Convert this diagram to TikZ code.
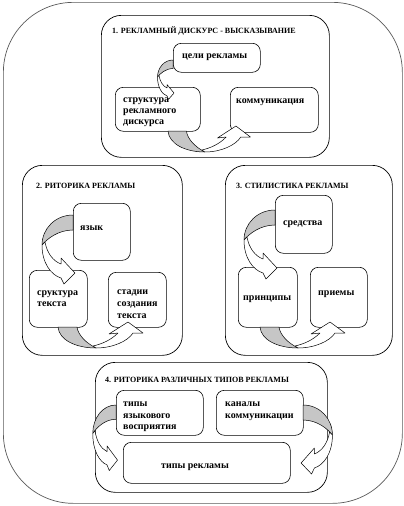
\documentclass[tikz,border=0pt]{standalone}
\usepackage{fontspec}
\setmainfont{Liberation Serif}
\tikzset{
  box/.style={draw, rounded corners=8pt, line width=0.6pt, inner sep=0pt, anchor=north west},
  frame/.style={draw, rounded corners=20pt, line width=0.7pt, inner sep=0pt, anchor=north west},
  ttl/.style={font=\fontsize{8}{9}\selectfont\bfseries, anchor=base west, inner sep=0pt},
  txt/.style={font=\fontsize{10}{11}\selectfont\bfseries, anchor=base west, inner sep=0pt},
  backband/.style={draw, fill=gray!45, line width=0.5pt, line join=round},
  frontband/.style={draw, fill=white, line width=0.5pt, line join=round},
}
\newcommand{\crvL}{%
  \draw[backband] (0,0) .. controls (-18,0) and (-31,14) .. (-31,30) .. controls (-26,24) and (-15,15) .. (0,15) -- cycle;
  \draw[frontband] (-31,30) .. controls (-31,48) and (-22,60) .. (-12,63) -- (-9,69) -- (2,58) -- (-12,43) -- (-12,49) .. controls (-20,46) and (-26,38) .. (-28,27) -- cycle;
}
\newcommand{\crvB}{%
  \draw[backband] (0,0) .. controls (1,13) and (18,21) .. (38,21) .. controls (28,16) and (20,8) .. (19,0) -- cycle;
  \draw[frontband] (38,21) .. controls (55,21) and (70,14) .. (75,6) -- (85,6) -- (70,-5) -- (51,7) -- (60,6) .. controls (53,13) and (44,17) .. (35,19) -- cycle;
}
\begin{document}
\begin{tikzpicture}[x=1pt,y=-1pt]
\useasboundingbox (0,0) rectangle (404,506);
% outer frame
\node[draw=gray!70!black, line width=0.7pt, rounded corners=70pt, inner sep=0pt, anchor=north west,
      minimum width=399pt, minimum height=501pt] (outer) at (3,2) {};

% ---------- frame 1 ----------
\node[frame, minimum width=228pt, minimum height=142pt] (f1) at (101,15) {};
\node[ttl] (t1) at (112,33) {1. РЕКЛАМНЫЙ ДИСКУРС - ВЫСКАЗЫВАНИЕ};
\node[box, minimum width=87pt, minimum height=29pt] (goals) at (173,43) {};
\node[txt] (goalsT) at (182,58) {цели рекламы};
\node[box, minimum width=85pt, minimum height=44pt] (struct) at (115,87) {};
\node[txt] (structA) at (123,102) {структура};
\node[txt] (structB) at (123,113) {рекламного};
\node[txt] (structC) at (123,124) {дискурса};
\node[box, minimum width=88pt, minimum height=45pt] (comm) at (230,87) {};
\node[txt] (commT) at (236,103) {коммуникация};
\begin{scope}[shift={(173,60)}, xscale=0.5, yscale=0.57] \crvL \end{scope}
\begin{scope}[shift={(168,131)}, xscale=0.97] \crvB \end{scope}

% ---------- frame 2 ----------
\node[frame, minimum width=160pt, minimum height=190pt] (f2) at (22,165) {};
\node[ttl] (t2) at (36,188) {2. РИТОРИКА РЕКЛАМЫ};
\node[box, minimum width=57pt, minimum height=57pt] (lang) at (73,203) {};
\node[txt] (langT) at (80,230) {язык};
\node[box, minimum width=58pt, minimum height=57pt] (tstruct) at (29,270) {};
\node[txt] (tstructA) at (37,295) {сруктура};
\node[txt] (tstructB) at (37,306) {текста};
\node[box, minimum width=58pt, minimum height=55pt] (stages) at (108,272) {};
\node[txt] (stagesA) at (117,294) {стадии};
\node[txt] (stagesB) at (117,306) {создания};
\node[txt] (stagesC) at (117,318) {текста};
\begin{scope}[shift={(73,215)}] \crvL \end{scope}
\begin{scope}[shift={(58,327)}] \crvB \end{scope}

% ---------- frame 3 ----------
\node[frame, minimum width=167pt, minimum height=190pt] (f3) at (225,165) {};
\node[ttl] (t3) at (236,188) {3. СТИЛИСТИКА РЕКЛАМЫ};
\node[box, minimum width=57pt, minimum height=58pt] (means) at (275,195) {};
\node[txt] (meansT) at (283,225) {средства};
\node[box, minimum width=59pt, minimum height=60pt] (princ) at (238,267) {};
\node[txt] (princT) at (243,300) {принципы};
\node[box, minimum width=57pt, minimum height=60pt] (tech) at (310,267) {};
\node[txt] (techT) at (318,295) {приемы};
\begin{scope}[shift={(275,210)}] \crvL \end{scope}
\begin{scope}[shift={(260,327)}] \crvB \end{scope}

% ---------- frame 4 ----------
\node[frame, minimum width=232pt, minimum height=130pt] (f4) at (95,362) {};
\node[ttl] (t4) at (105,382) {4. РИТОРИКА РАЗЛИЧНЫХ ТИПОВ РЕКЛАМЫ};
\node[box, minimum width=87pt, minimum height=45pt] (perc) at (116,390) {};
\node[txt] (percA) at (123,406) {типы};
\node[txt] (percB) at (123,418) {языкового};
\node[txt] (percC) at (123,429) {восприятия};
\node[box, minimum width=87pt, minimum height=45pt] (chan) at (216,390) {};
\node[txt] (chanA) at (225,406) {каналы};
\node[txt] (chanB) at (225,418) {коммуникации};
\node[box, minimum width=167pt, minimum height=41pt] (types) at (123,442) {};
\node[txt, anchor=base] (typesT) at (195,468) {типы рекламы};
\begin{scope}[shift={(116,405)}, xscale=0.75, yscale=0.95] \crvL \end{scope}
\begin{scope}[shift={(303,405)}, xscale=-0.95] \crvL \end{scope}
\end{tikzpicture}
\end{document}
